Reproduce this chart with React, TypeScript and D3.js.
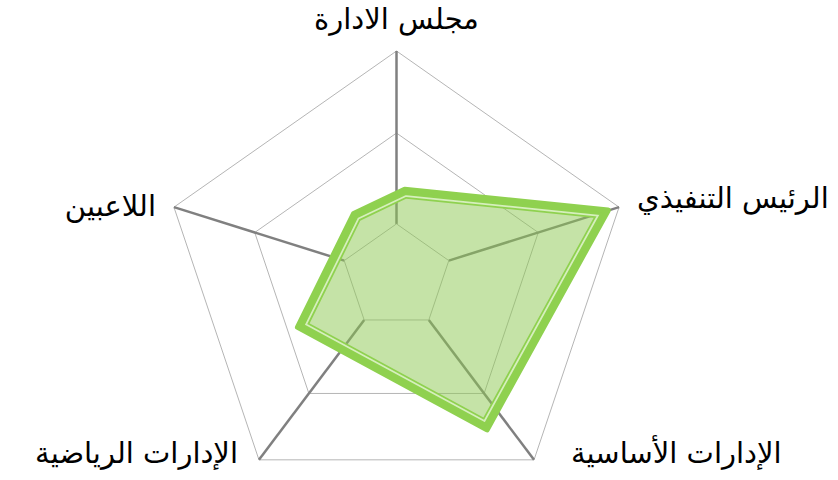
import React from "react";
import * as d3 from "d3";

// Categories clockwise from the top
const categories = [
  "مجلس الادارة",
  "الرئيس التنفيذي",
  "الإدارات الأساسية",
  "الإدارات الرياضية",
  "اللاعبين",
];

// Grid ring values (radial scale 0..100)
const gridValues = [23.5, 63.7, 100];

// Series: value of each vertex and where it sits along the category axis
const seriesValues = [38.9, 95.1, 77.8, 47.7, 33.4];
const seriesAxisPos = [0.072, 0.999, 2.086, 3.365, 4.539];

const W = 838;
const H = 480;
const cx = 396.5;
const cy = 277;
const rx = 234;
const ry = 226;

const angle = d3.scaleLinear().domain([0, categories.length]).range([0, 2 * Math.PI]);
const radius = d3.scaleLinear().domain([0, 100]).range([0, 1]);

function pt(pos: number, v: number): [number, number] {
  const a = angle(pos);
  const r = radius(v);
  return [cx + rx * r * Math.sin(a), cy - ry * r * Math.cos(a)];
}

const closedLine = d3.line<[number, number]>().curve(d3.curveLinearClosed);

// label placement per category: [dx, dy, anchor] relative to outer vertex
const labelPlace: [number, number, string][] = [
  [0, -22, "middle"],
  [18, 1, "start"],
  [37, 3, "start"],
  [-21, 3, "end"],
  [-18, 9, "end"],
];

export default function App() {
  const rings = gridValues.map((g) =>
    closedLine(categories.map((_, i) => pt(i, g))) as string
  );
  const spokes = categories.map((_, i) => {
    const a = pt(i, gridValues[0]);
    const b = pt(i, gridValues[gridValues.length - 1]);
    return { a, b };
  });
  const seriesPts = seriesValues.map((v, i) => pt(seriesAxisPos[i], v));
  const seriesPath = closedLine(seriesPts) as string;
  const green = "#8fd14f";

  return (
    <svg
      width={W}
      height={H}
      style={{ position: "absolute", left: 0, top: 0, background: "#fff" }}
      fontFamily="'DejaVu Sans', sans-serif"
    >
      <defs>
        <clipPath id="inside">
          <path d={seriesPath} />
        </clipPath>
      </defs>
      {rings.map((d, i) => (
        <path key={"r" + i} d={d} fill="none" stroke="#b5b5b5" strokeWidth={1} />
      ))}
      {spokes.map((s, i) => (
        <line
          key={"s" + i}
          x1={s.a[0]}
          y1={s.a[1]}
          x2={s.b[0]}
          y2={s.b[1]}
          stroke="#808080"
          strokeWidth={2.5}
        />
      ))}
      <path d={seriesPath} fill="#8cc850" fillOpacity={0.5} stroke="none" />
      <g clipPath="url(#inside)">
        <path d={seriesPath} fill="none" stroke={green} strokeWidth={18} strokeLinejoin="round" />
        <path d={seriesPath} fill="none" stroke="#d6efbd" strokeWidth={14.5} strokeLinejoin="round" />
        <path d={seriesPath} fill="none" stroke={green} strokeWidth={11} strokeLinejoin="round" />
      </g>
      <path d={seriesPath} fill="none" stroke={green} strokeWidth={5.5} strokeLinejoin="round" />
      {categories.map((c, i) => {
        const v = pt(i, 100);
        const [dx, dy, anchor] = labelPlace[i];
        return (
          <text
            key={"l" + i}
            x={v[0] + dx}
            y={v[1] + dy}
            textAnchor={anchor as any}
            fontSize={29}
            fill="#000"
          >
            {c}
          </text>
        );
      })}
    </svg>
  );
}
